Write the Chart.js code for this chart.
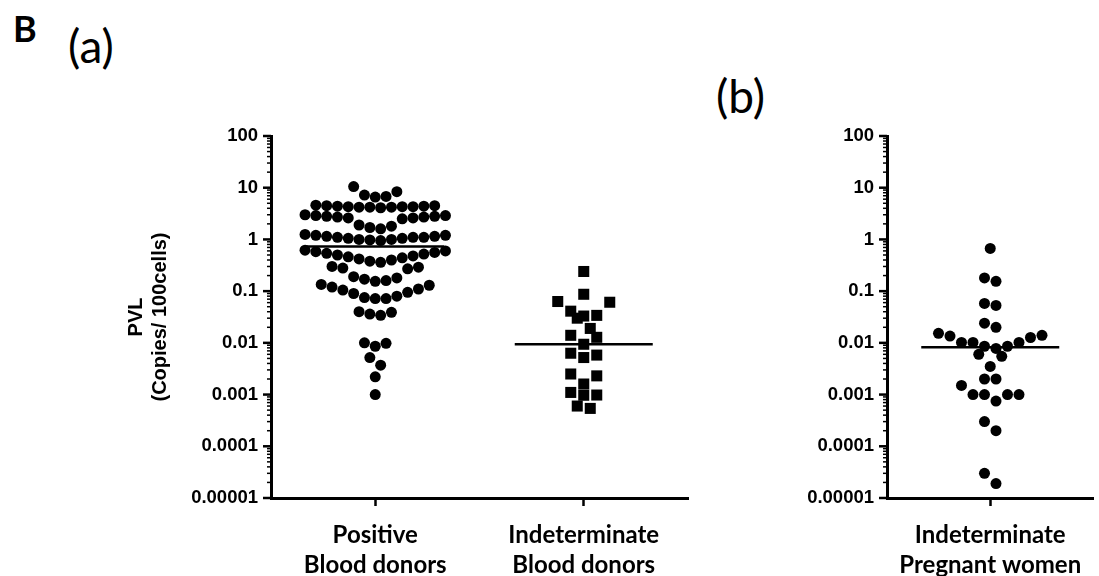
<!DOCTYPE html>
<html>
<head>
<meta charset="UTF-8" />
<title>PVL</title>
<style>
body { margin: 0; background: #fff; width: 1099px; height: 576px; position: relative; overflow: hidden; font-family: Lato, sans-serif; }
.lbl { position: absolute; color: #000; line-height: 1; white-space: nowrap; }
#panelA { position: absolute; left: 100px; top: 110px; }
#panelB { position: absolute; left: 720px; top: 110px; }
</style>
</head>
<body>
<div class="lbl" style="left:13px;top:10px;font-size:36px;font-weight:bold">B</div>
<div class="lbl" style="left:68px;top:23px;font-size:46px">(a)</div>
<div class="lbl" style="left:716px;top:73px;font-size:46px">(b)</div>
<div id="panelA"><canvas id="chartA" width="600" height="466"></canvas></div>
<div id="panelB"><canvas id="chartB" width="379" height="466"></canvas></div>
<script src="https://cdn.jsdelivr.net/npm/chart.js@4.4.0/dist/chart.umd.min.js"></script>
<script>
// values (copies / 100 cells)
const positiveBloodDonors = [
  10.5, 8.4, 7.2, 6.8, 6.6,
  4.6, 4.5, 4.5, 4.4, 4.4, 4.3, 4.3, 4.3, 4.2, 4.2, 4.2, 4.1,
  3.0, 2.9, 2.9, 2.8, 2.8, 2.7, 2.7, 2.6, 2.6, 2.5,
  1.9, 1.8, 1.7, 1.6,
  1.25, 1.2, 1.2, 1.15, 1.15, 1.1, 1.1, 1.1, 1.05, 1.05, 1.0, 1.0, 0.98, 0.95,
  0.62, 0.6, 0.58, 0.56, 0.54, 0.52, 0.5, 0.48, 0.46, 0.44, 0.42, 0.4, 0.38, 0.36,
  0.30, 0.29, 0.28, 0.27,
  0.19, 0.18, 0.17, 0.16, 0.155,
  0.135, 0.13, 0.12, 0.11, 0.105, 0.095, 0.09, 0.08, 0.075, 0.072, 0.072,
  0.040, 0.039, 0.036, 0.034,
  0.010, 0.0098, 0.0086,
  0.0052, 0.0037, 0.0022, 0.001
];
const indeterminateBloodDonors = [
  0.24, 0.087, 0.061, 0.063, 0.041, 0.033, 0.030, 0.034, 0.019, 0.0128, 0.014, 0.0094,
  0.0058, 0.0052, 0.0063, 0.0025, 0.0023, 0.0016, 0.00098, 0.0011, 0.00097, 0.00054, 0.0006
];
const indeterminatePregnantWomen = [
  0.67, 0.18, 0.155, 0.053, 0.058, 0.024, 0.020, 0.0153, 0.014, 0.0135, 0.0127,
  0.0102, 0.0102, 0.0102, 0.0086, 0.0086, 0.0078, 0.0055, 0.006, 0.0035, 0.002, 0.002,
  0.001, 0.001, 0.001, 0.001, 0.00075, 0.0015, 0.0003, 0.0002, 0.00003, 0.000019
];
const mediansA = [0.73, 0.0094];
const mediansB = [0.0082];
const categoriesA = [['Positive', 'Blood donors'], ['Indeterminate', 'Blood donors']];
const categoriesB = [['Indeterminate', 'Pregnant women']];
const yTickLabels = ['0.00001', '0.0001', '0.001', '0.01', '0.1', '1', '10', '100'];
const yTitle = ['PVL', '(Copies/ 100cells)'];

// row bins for the dot plot layout (in decades)
const binOrigin = 0.4826;
const binDecades = 0.3282;

const isPow = v => Math.abs(Math.log10(v) - Math.round(Math.log10(v))) < 1e-9;

// short minor / long major ticks on the outside of the log axis
const logTicks = {
  id: 'logTicks',
  afterDraw(chart) {
    const s = chart.scales.y, ctx = chart.ctx;
    ctx.save();
    ctx.strokeStyle = '#000';
    s.ticks.forEach(t => {
      const y = s.getPixelForValue(t.value);
      const major = isPow(t.value);
      ctx.lineWidth = major ? 2.5 : 1.5;
      ctx.beginPath();
      ctx.moveTo(s.right - (major ? 8 : 4), y);
      ctx.lineTo(s.right, y);
      ctx.stroke();
    });
    ctx.restore();
  }
};

// prism-like rows: bin values, lowest of each row in the middle, spread outwards
function rowLayout(values) {
  const out = new Array(values.length);
  const bins = {};
  values.forEach((v, i) => {
    const k = Math.floor((Math.log10(v) - binOrigin) / binDecades);
    (bins[k] = bins[k] || []).push(i);
  });
  Object.values(bins).forEach(idx => {
    idx.sort((a, b) => values[a] - values[b]);
    const n = idx.length;
    idx.forEach((id, j) => {
      let slot;
      if (n % 2) slot = j === 0 ? 0 : (j % 2 ? 1 : -1) * Math.ceil(j / 2);
      else slot = (j % 2 ? -1 : 1) * (Math.floor(j / 2) + 0.5);
      out[id] = slot;
    });
  });
  return out;
}

function makePanel(id, groups, styles, medians, cats, yAxisWidth, rightPad, showTitle) {
  const datasets = groups.map((g, i) => ({
    type: 'scatter',
    data: g.map(v => ({ x: i + 1, y: v })),
    backgroundColor: '#000',
    borderColor: '#000',
    borderWidth: 0,
    pointStyle: styles[i].shape,
    pointRadius: styles[i].r,
    pointHoverRadius: styles[i].r
  }));
  medians.forEach((m, i) => datasets.push({
    type: 'line',
    data: [{ x: i + 1, y: m }, { x: i + 1, y: m }],
    borderColor: '#000',
    borderWidth: 2.5,
    pointRadius: 0
  }));

  const chart = new Chart(document.getElementById(id), {
    type: 'scatter',
    data: { datasets: datasets },
    options: {
      responsive: false,
      animation: false,
      events: [],
      layout: { padding: { top: 26, right: rightPad, bottom: 0, left: 0 } },
      plugins: { legend: { display: false }, tooltip: { enabled: false } },
      scales: {
        x: {
          type: 'linear',
          min: 0.5,
          max: cats.length + 0.5,
          afterBuildTicks: s => { s.ticks = cats.map((c, i) => ({ value: i + 1 })); },
          afterFit: s => { s.height = 78; },
          ticks: {
            autoSkip: false,
            maxRotation: 0,
            padding: 14,
            color: '#000',
            font: { family: 'Lato', weight: 'bold', size: 24, lineHeight: 1.25 },
            callback: (v, i) => cats[i]
          },
          grid: { display: true, drawOnChartArea: false, drawTicks: true, tickLength: 8, tickWidth: 2.5, tickColor: '#000' },
          border: { display: true, width: 3, color: '#000' }
        },
        y: {
          type: 'logarithmic',
          min: 0.00001,
          max: 100,
          afterBuildTicks: s => {
            const t = [];
            for (let e = -5; e <= 2; e++) {
              for (let m = 1; m <= 9; m++) {
                const v = m * Math.pow(10, e);
                if (v <= 100.0000001) t.push({ value: v });
              }
            }
            s.ticks = t;
          },
          afterFit: s => { s.width = yAxisWidth; },
          ticks: {
            autoSkip: false,
            padding: 5,
            color: '#000',
            font: { family: 'Liberation Sans', weight: 'bold', size: 18.5 },
            callback: v => isPow(v) ? yTickLabels[Math.round(Math.log10(v)) + 5] : ''
          },
          grid: { display: true, drawOnChartArea: false, drawTicks: true, tickLength: 8, color: 'rgba(0,0,0,0)' },
          border: { display: true, width: 3, color: '#000' },
          title: {
            display: showTitle,
            text: yTitle,
            color: '#000',
            padding: { top: 24, bottom: 0 },
            font: { family: 'Liberation Sans', weight: 'bold', size: 20, lineHeight: 1.2 }
          }
        }
      }
    },
    plugins: [logTicks]
  });

  // spread the dots and size the median bars using the library's scales
  const xs = chart.scales.x;
  const unit = xs.getPixelForValue(1) - xs.getPixelForValue(0);
  groups.forEach((g, i) => {
    const slots = rowLayout(g);
    chart.data.datasets[i].data = g.map((v, k) => ({ x: i + 1 + slots[k] * styles[i].gap / unit, y: v }));
  });
  const half = 69 / unit;
  medians.forEach((m, i) => {
    chart.data.datasets[groups.length + i].data = [{ x: i + 1 - half, y: m }, { x: i + 1 + half, y: m }];
  });
  chart.update('none');
  return chart;
}

makePanel('chartA',
  [positiveBloodDonors, indeterminateBloodDonors],
  [{ shape: 'circle', r: 5.5, gap: 10.8 }, { shape: 'rect', r: 7.8, gap: 13 }],
  mediansA, categoriesA, 171, 12, true);

makePanel('chartB',
  [indeterminatePregnantWomen],
  [{ shape: 'circle', r: 5.5, gap: 11.5 }],
  mediansB, categoriesB, 167, 0, false);
</script>
</body>
</html>
